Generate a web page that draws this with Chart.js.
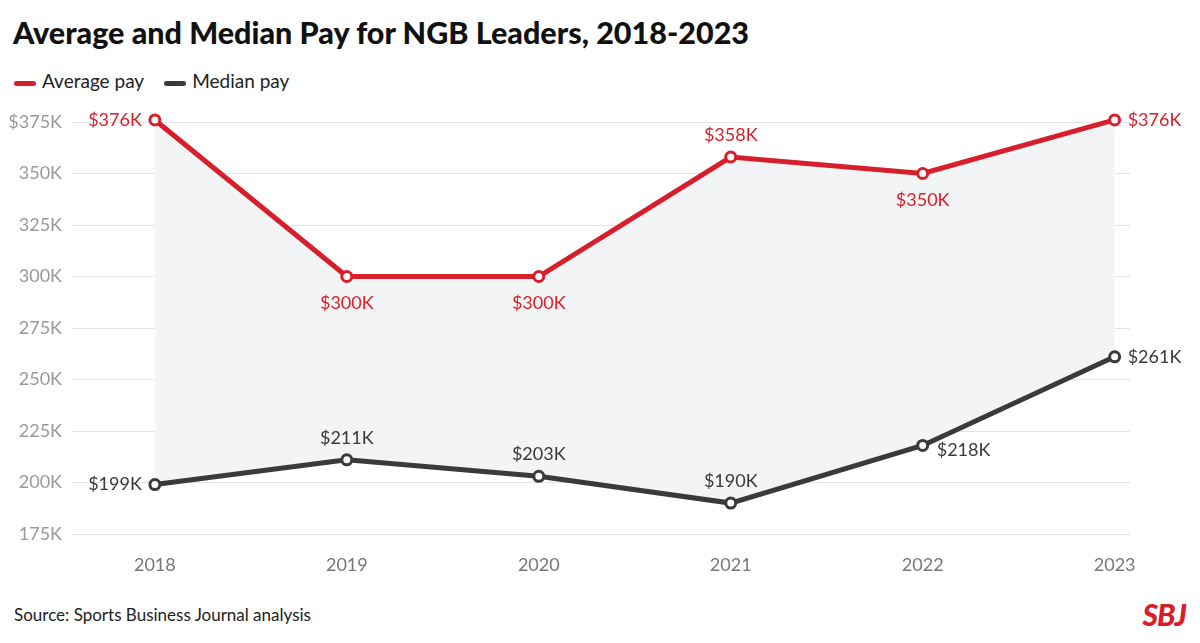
<!DOCTYPE html>
<html><head><meta charset="utf-8">
<script src="https://cdn.jsdelivr.net/npm/chart.js@4"></script>
<style>
body{margin:0;width:1200px;height:643px;background:#fff;font-family:Lato,"Open Sans",sans-serif;position:relative;overflow:hidden}
#title{position:absolute;left:13px;top:14px;font-size:30.5px;font-weight:900;color:#111}
#legend{position:absolute;left:14px;top:69px;font-size:19px;color:#222;display:flex;gap:20px;align-items:center}
.sw{display:inline-block;width:22px;height:5px;border-radius:3px;vertical-align:middle;margin-right:6px}
#src{position:absolute;left:14px;top:604px;font-size:17px;color:#222}
#logo{position:absolute;right:14px;top:596px;font-size:30px;font-weight:900;font-style:italic;color:#d71f2b;letter-spacing:-1px}
#wrap{position:absolute;left:0;top:100px;width:1200px;height:490px}
</style></head><body>
<div id="title">Average and Median Pay for NGB Leaders, 2018-2023</div>
<div id="legend"><span><span class="sw" style="background:#d71f2b"></span>Average pay</span><span><span class="sw" style="background:#3a3a3c"></span>Median pay</span></div>
<div id="wrap"><canvas id="c"></canvas></div>
<div id="src">Source: Sports Business Journal analysis</div>
<div id="logo">SBJ</div>
<script>
const years=[2018,2019,2020,2021,2022,2023];
const averagePay=[376,300,300,358,350,376];
const medianPay=[199,211,203,190,218,261];
const avgPos=['left','below','below','above','below','right'];
const medPos=['left','above','above','above','rightbelow','right'];
const RED='#d71f2b',DARK='#3a3a3c';
const labelPlugin={id:'lbl',afterDatasetsDraw(ch){
 const ctx=ch.ctx;ctx.save();ctx.font='18px Lato, "Open Sans", sans-serif';
 [[0,averagePay,avgPos,RED],[1,medianPay,medPos,DARK]].forEach(([di,vals,pos,col])=>{
  const meta=ch.getDatasetMeta(di);ctx.fillStyle=col;
  meta.data.forEach((p,i)=>{const t='$'+vals[i]+'K';let x=p.x,y=p.y;
   ctx.textBaseline='middle';
   if(pos[i]==='left'){ctx.textAlign='right';x-=13;}
   else if(pos[i]==='right'){ctx.textAlign='left';x+=13;}
   else if(pos[i]==='above'){ctx.textAlign='center';y-=22;}
   else if(pos[i]==='below'){ctx.textAlign='center';y+=27;}
   else {ctx.textAlign='left';x+=14;y+=5;}
   ctx.fillText(t,x,y);});
 });ctx.restore();}};
new Chart(document.getElementById('c'),{type:'line',
 data:{datasets:[
  {data:years.map((y,i)=>({x:y,y:averagePay[i]})),borderColor:RED,borderWidth:5,pointRadius:5,pointBorderWidth:3,pointBackgroundColor:'#fff',pointBorderColor:RED,fill:'+1',backgroundColor:'#f3f4f6',clip:false},
  {data:years.map((y,i)=>({x:y,y:medianPay[i]})),borderColor:DARK,borderWidth:5,pointRadius:5,pointBorderWidth:3,pointBackgroundColor:'#fff',pointBorderColor:DARK,fill:false,clip:false}]},
 options:{responsive:true,maintainAspectRatio:false,animation:false,
  layout:{padding:{top:22,right:70,left:0,bottom:0}},
  plugins:{legend:{display:false},tooltip:{enabled:false},filler:{drawTime:'beforeDatasetsDraw'}},
  scales:{
   x:{type:'linear',min:2017.61,max:2023.08,grid:{display:false},border:{display:false},
     afterBuildTicks(s){s.ticks=years.map(v=>({value:v}));},
     afterFit(s){s.height=56;},
     ticks:{color:'#777',font:{size:18,family:'Lato'},padding:12,callback:v=>String(v)}},
   y:{min:175,max:375,grid:{color:'#e3e3e3',lineWidth:1},border:{display:false},
     afterFit(s){s.width=80;},
     ticks:{stepSize:25,color:'#999',font:{size:18,family:'Lato'},padding:10,callback:v=>(v===375?'$':'')+v+'K'}}}},
 plugins:[labelPlugin]});
</script></body></html>
